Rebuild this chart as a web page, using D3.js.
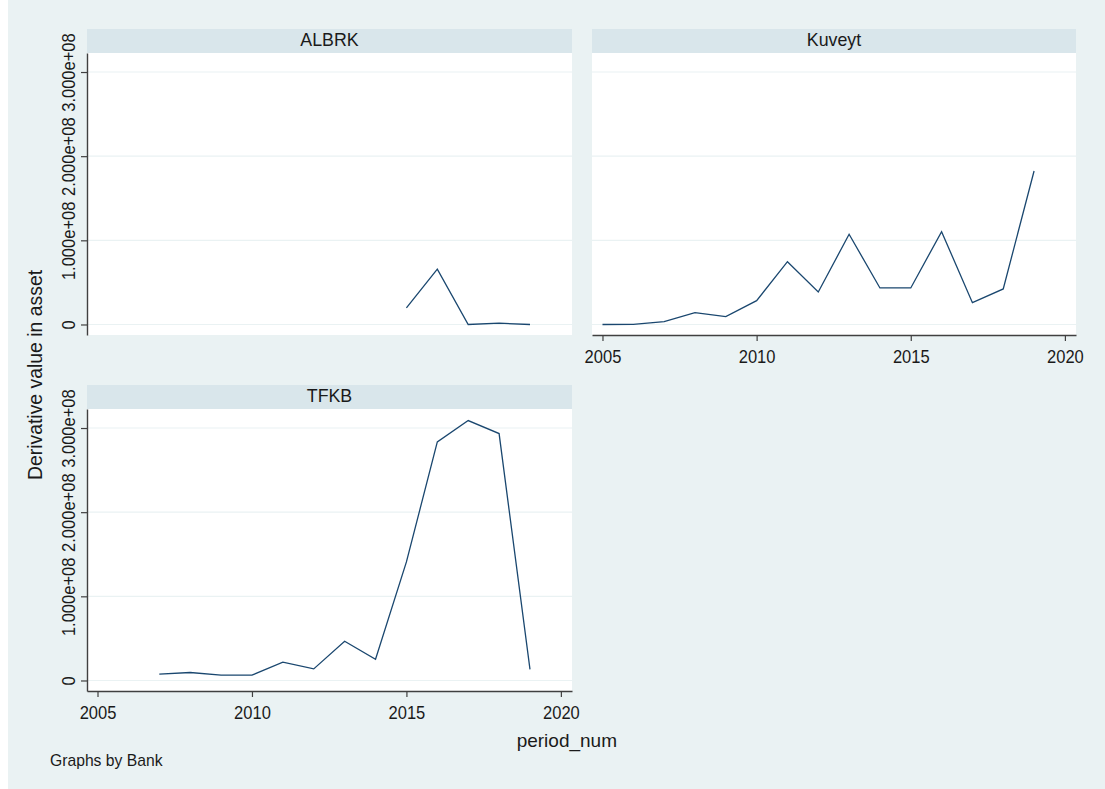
<!DOCTYPE html>
<html>
<head>
<meta charset="utf-8">
<script src="https://cdn.jsdelivr.net/npm/d3@7"></script>
<style>
  html, body { margin: 0; padding: 0; background: #ffffff; }
  svg { display: block; }
  text { font-family: "Liberation Sans", Arial, sans-serif; fill: #1a1a1a; }
</style>
</head>
<body>
<svg id="chart" width="1105" height="789"></svg>
<script>
// ---- data ----
const banks = ["ALBRK", "Kuveyt", "TFKB"];

const albrkYears  = [2015, 2016, 2017, 2018, 2019];
const albrkValues = [1.98e7, 6.57e7, 0, 1.5e6, 0];

const kuveytYears  = [2005, 2006, 2007, 2008, 2009, 2010, 2011, 2012, 2013, 2014, 2015, 2016, 2017, 2018, 2019];
const kuveytValues = [0, 2e5, 3.3e6, 1.40e7, 9.3e6, 2.83e7, 7.46e7, 3.86e7, 1.072e8, 4.34e7, 4.34e7, 1.103e8, 2.59e7, 4.22e7, 1.824e8];

const tfkbYears  = [2007, 2008, 2009, 2010, 2011, 2012, 2013, 2014, 2015, 2016, 2017, 2018, 2019];
const tfkbValues = [7.5e6, 9.5e6, 6.3e6, 6.3e6, 2.17e7, 1.38e7, 4.67e7, 2.53e7, 1.409e8, 2.835e8, 3.089e8, 2.934e8, 1.31e7];

const xTicks = [2005, 2010, 2015, 2020];
const xTickLabels = ["2005", "2010", "2015", "2020"];
const yTicks = [0, 1e8, 2e8, 3e8];
const yTickLabels = ["0", "1.000e+08", "2.000e+08", "3.000e+08"];

const yTitle = "Derivative value in asset";
const xTitle = "period_num";
const note = "Graphs by Bank";

// ---- layout ----
const svg = d3.select("#chart");
const W = 1105, H = 789;
const bg = "#eaf2f3", stripFill = "#d9e6eb", lineColor = "#1a476f", axisColor = "#404040";
const tickFont = "19px", squeeze = 0.87;

svg.append("rect").attr("x", 8).attr("y", 0).attr("width", W - 8).attr("height", H).attr("fill", bg);

const plotH = 282, stripH = 24;
const panels = [
  { name: banks[0], years: albrkYears, values: albrkValues, x0: 87, w: 485, y0: 53, xAxis: false, yAxis: true },
  { name: banks[1], years: kuveytYears, values: kuveytValues, x0: 592, w: 484, y0: 53, xAxis: true, yAxis: false },
  { name: banks[2], years: tfkbYears, values: tfkbValues, x0: 87, w: 485, y0: 409, xAxis: true, yAxis: true }
];

const yDomain = [-1.25e7, 3.226e8];
const xDomain = [2004.66, 2020.36];

panels.forEach(p => {
  const g = svg.append("g").attr("transform", `translate(${p.x0},${p.y0})`);
  const x = d3.scaleLinear().domain(xDomain).range([0, p.w]);
  const y = d3.scaleLinear().domain(yDomain).range([plotH, 0]);

  // strip
  g.append("rect").attr("x", 0).attr("y", -stripH).attr("width", p.w).attr("height", stripH).attr("fill", stripFill);
  g.append("text").attr("x", p.w / 2).attr("y", -stripH + 17.3)
    .attr("text-anchor", "middle").style("font-size", "17.8px").text(p.name);

  // plot region
  g.append("rect").attr("x", 0).attr("y", 0).attr("width", p.w).attr("height", plotH).attr("fill", "#ffffff");

  // gridlines
  g.selectAll("line.grid").data(yTicks).enter().append("line")
    .attr("class", "grid")
    .attr("x1", 0).attr("x2", p.w)
    .attr("y1", d => y(d)).attr("y2", d => y(d))
    .attr("stroke", bg).attr("stroke-width", 1.2);

  // line
  const line = d3.line().x(d => x(d[0])).y(d => y(d[1]));
  const pts = p.years.map((yr, i) => [yr, p.values[i]]);
  g.append("path").datum(pts).attr("d", line)
    .attr("fill", "none").attr("stroke", lineColor).attr("stroke-width", 1.3)
    .attr("stroke-linejoin", "miter");

  // y axis
  if (p.yAxis) {
    const ay = g.append("g").call(
      d3.axisLeft(y).tickValues(yTicks).tickSize(6).tickSizeOuter(0)
        .tickFormat((d, i) => yTickLabels[i])
    );
    ay.select(".domain").attr("stroke", axisColor).attr("stroke-width", 1.4);
    ay.selectAll(".tick line").attr("stroke", axisColor).attr("stroke-width", 1.2);
    ay.selectAll(".tick text")
      .attr("x", 0).attr("dy", 0).attr("y", 0)
      .attr("text-anchor", "middle")
      .attr("transform", `translate(-12.5,0) rotate(-90) scale(${squeeze},1)`)
      .style("font-size", tickFont).attr("fill", "#1a1a1a");
  }

  // x axis
  if (p.xAxis) {
    const ax = g.append("g").attr("transform", `translate(0,${plotH})`).call(
      d3.axisBottom(x).tickValues(xTicks).tickSize(6).tickSizeOuter(0)
        .tickFormat((d, i) => xTickLabels[i])
    );
    ax.select(".domain").attr("stroke", axisColor).attr("stroke-width", 1.4);
    ax.selectAll(".tick line").attr("stroke", axisColor).attr("stroke-width", 1.2);
    ax.selectAll(".tick text")
      .attr("x", 0).attr("y", 0).attr("dy", 0)
      .attr("transform", `translate(0,27.5) scale(${squeeze},1)`)
      .style("font-size", tickFont).attr("fill", "#1a1a1a");
  }
});

// titles
svg.append("text")
  .attr("transform", "translate(41.7,375) rotate(-90)")
  .attr("text-anchor", "middle")
  .style("font-size", "19.4px")
  .text(yTitle);

svg.append("text")
  .attr("x", 617).attr("y", 747)
  .attr("text-anchor", "end")
  .style("font-size", "19px")
  .text(xTitle);

svg.append("text")
  .attr("x", 50).attr("y", 766)
  .style("font-size", "15.7px")
  .text(note);
</script>
</body>
</html>
